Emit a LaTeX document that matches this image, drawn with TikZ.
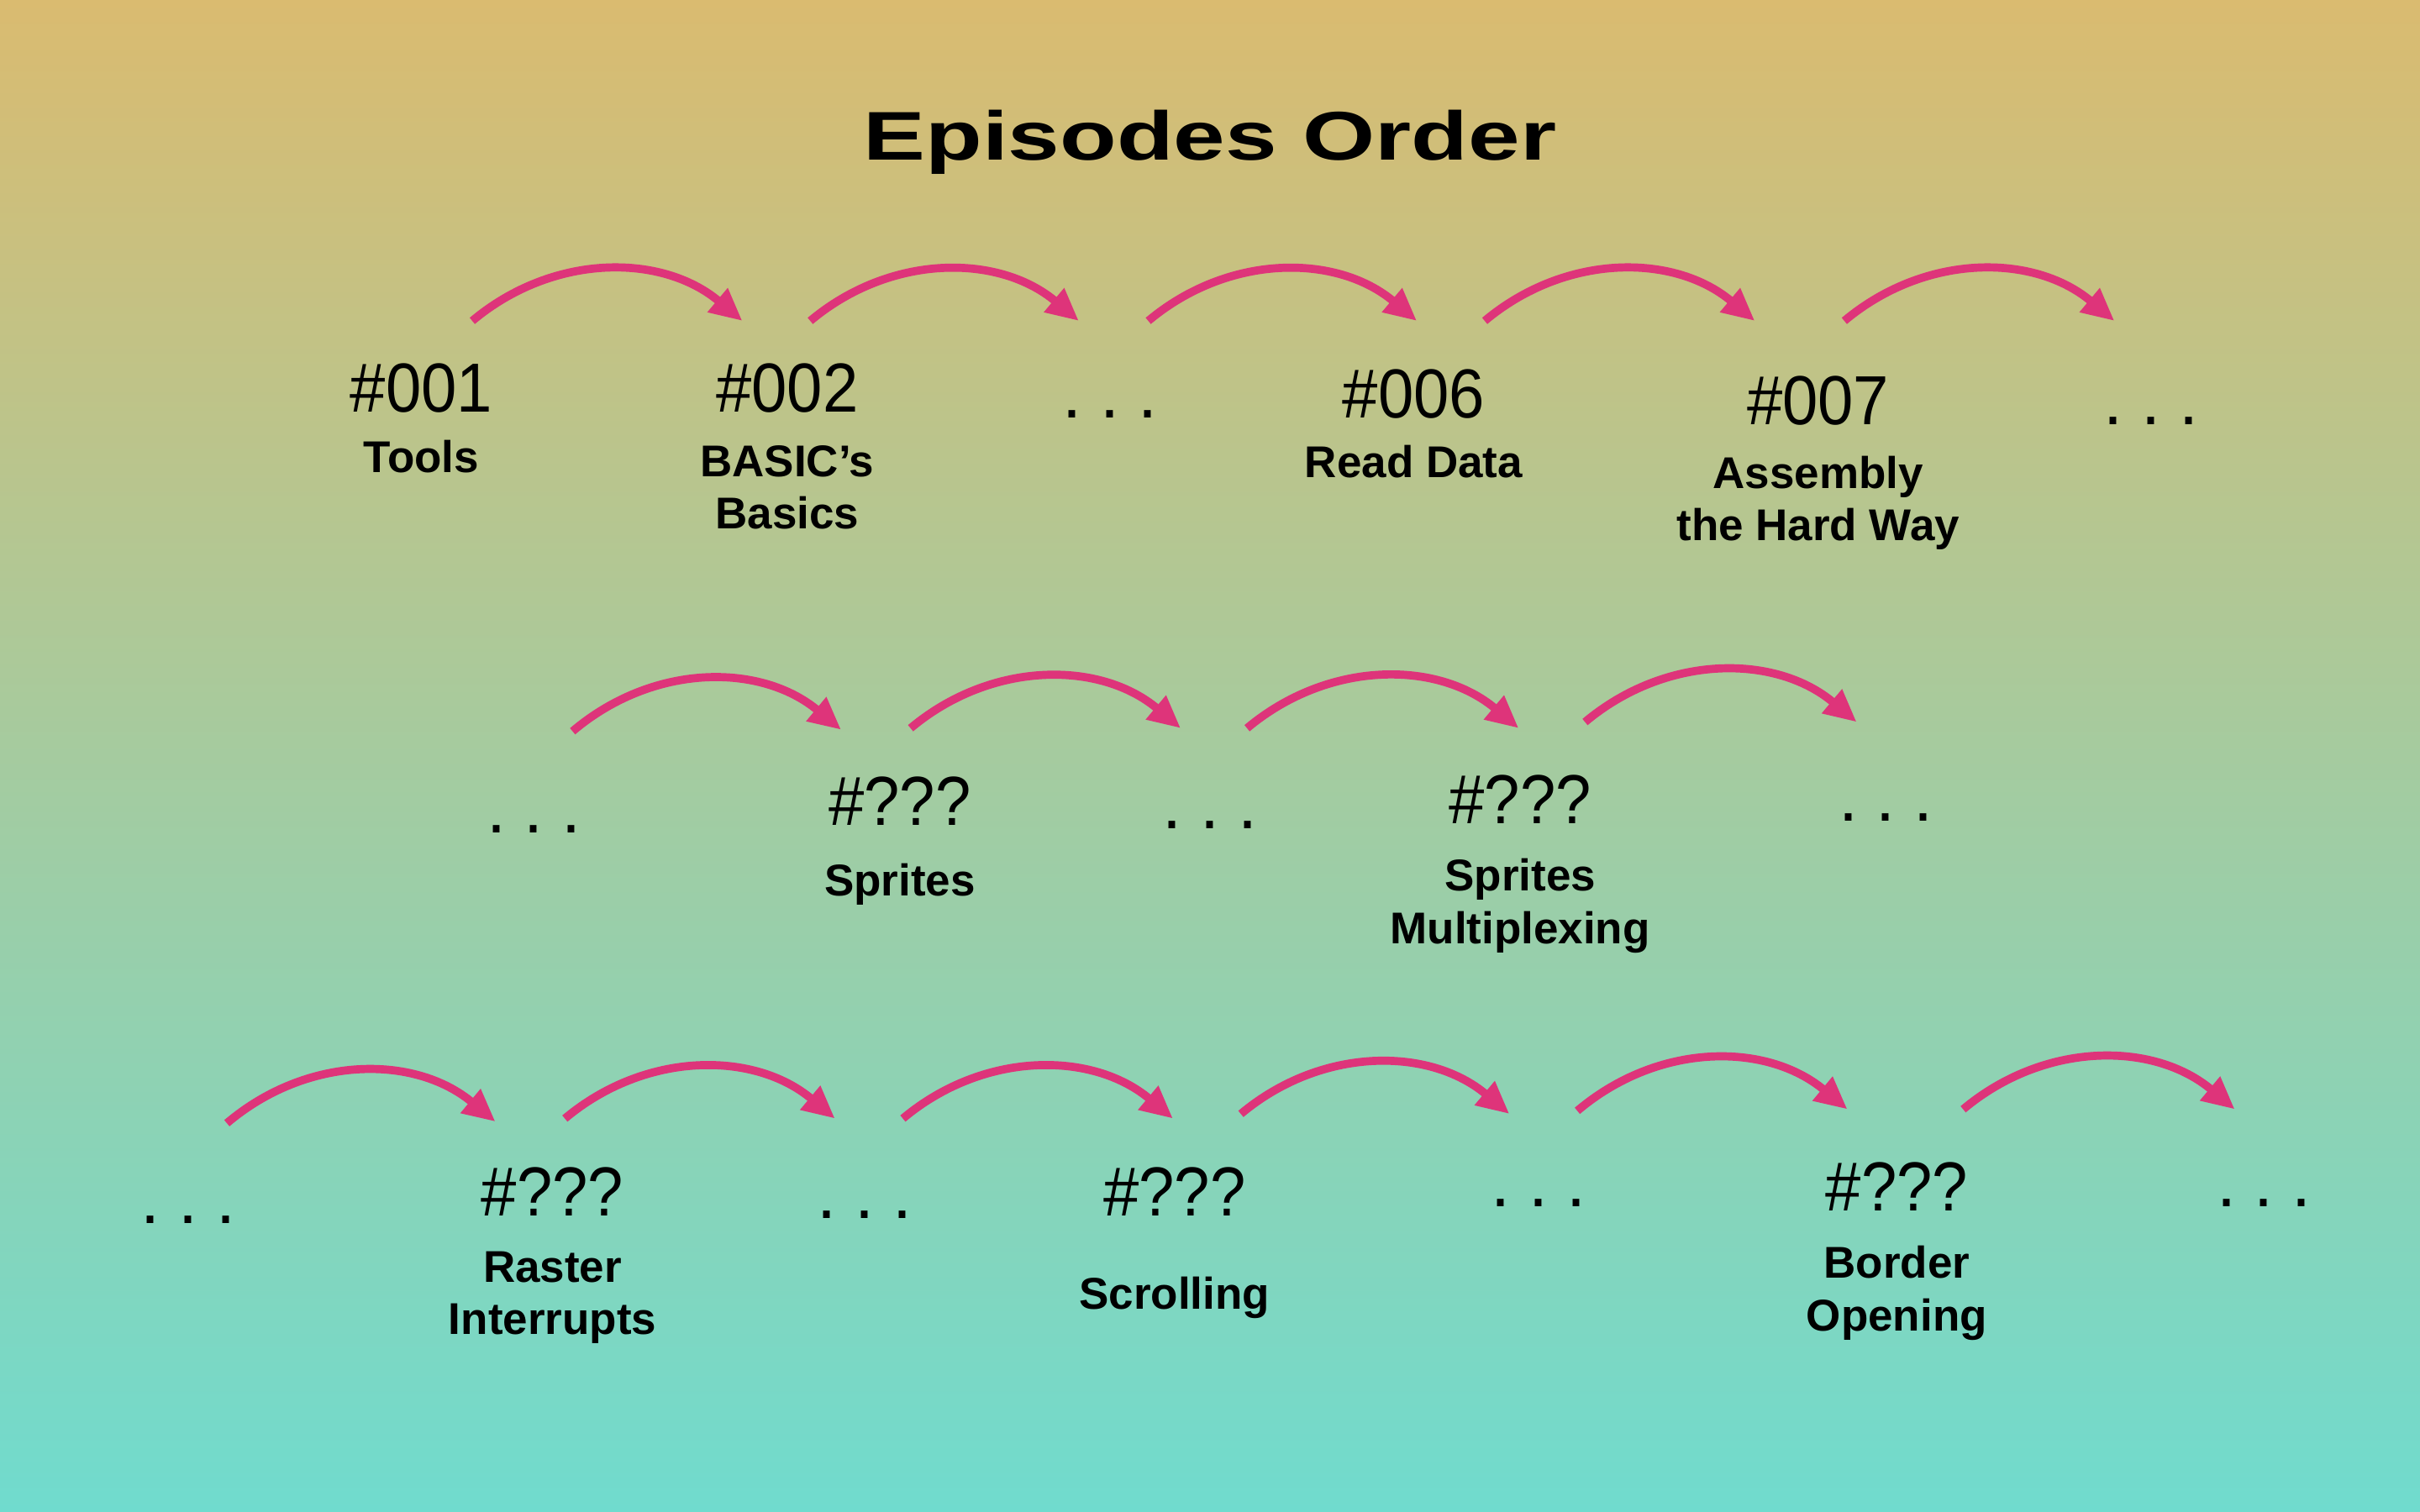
\documentclass[tikz,border=0pt]{standalone}
\usepackage{fontspec}
\setmainfont{Liberation Sans}
\usetikzlibrary{arrows.meta}
\definecolor{sand}{RGB}{218,187,112}
\definecolor{lagoon}{RGB}{112,219,206}
\definecolor{hopcolor}{RGB}{222,52,122}
\newcommand{\gapdots}{.\hspace{3.4pt}.\hspace{3.4pt}.}
\tikzset{
  headline/.style={anchor=base, xscale=1.35, font=\bfseries\fontsize{12.7}{14}\selectfont},
  epnum/.style={anchor=base, xscale=0.92, font=\fontsize{12.8}{14}\selectfont},
  epgap/.style={anchor=base, font=\fontsize{12.8}{14}\selectfont},
  eptitle/.style={align=center, font=\bfseries\fontsize{8.2}{9.7}\selectfont},
  hop/.style={draw=hopcolor, line width=1.5pt, -{Triangle[length=0.21cm,width=0.19cm]}}
}
\begin{document}
\begin{tikzpicture}[x=0.01cm, y=-0.01cm]
\shade[top color=sand, bottom color=lagoon] (0,0) rectangle (1568,980);
\useasboundingbox (0,0) rectangle (1568,980);

\node[headline] (title) at (784,104) {Episodes Order};

% first row
\node[epnum] (n001) at (273,267) {\#001};
\node[eptitle] (t001) at (273,296) {Tools};
\node[epnum] (n002) at (510,267) {\#002};
\node[eptitle] (t002) at (510,316) {BASIC’s\\Basics};
\node[epgap] (gap1) at (719,271) {\gapdots};
\node[epnum] (n006) at (916,271) {\#006};
\node[eptitle] (t006) at (916,299) {Read Data};
\node[epnum] (n007) at (1178,275) {\#007};
\node[eptitle] (t007) at (1178,326) {Assembly\\the Hard Way};
\node[epgap] (gap2) at (1394,275) {\gapdots};

% second row
\node[epgap] (gap3) at (346,540) {\gapdots};
\node[epnum] (nspr) at (583,535) {\#???};
\node[eptitle] (tspr) at (583,573) {Sprites};
\node[epgap] (gap4) at (784,537) {\gapdots};
\node[epnum] (nmux) at (985,534) {\#???};
\node[eptitle] (tmux) at (985,587) {Sprites\\Multiplexing};
\node[epgap] (gap5) at (1222,532) {\gapdots};

% third row
\node[epgap] (gap6) at (122,793) {\gapdots};
\node[epnum] (nirq) at (358,788) {\#???};
\node[eptitle] (tirq) at (358,841) {Raster\\Interrupts};
\node[epgap] (gap7) at (560,790) {\gapdots};
\node[epnum] (nscr) at (761,788) {\#???};
\node[eptitle] (tscr) at (761,841) {Scrolling};
\node[epgap] (gap8) at (997,782) {\gapdots};
\node[epnum] (nbrd) at (1229,785) {\#???};
\node[eptitle] (tbrd) at (1229,838) {Border\\Opening};
\node[epgap] (gap9) at (1467,782) {\gapdots};

% hops
\foreach \xa/\ya/\xb/\yb [count=\i] in {306/208/481/208, 525/208/699/208, 744/208/918/208, 962/208/1137/208, 1195/208/1370/208,
    371/474/545/473, 590/472/765/472, 808/472/984/472, 1027/468/1203/468,
    147/728/321/727, 366/725/541/725, 585/725/760/725, 804/722/978/722, 1022/720/1197/719, 1272/719/1448/719} {
  \coordinate (from\i) at (\xa,\ya);
  \coordinate (to\i) at (\xb,\yb);
  \draw[hop] (from\i) to[bend left=40] (to\i);
}
\end{tikzpicture}
\end{document}
